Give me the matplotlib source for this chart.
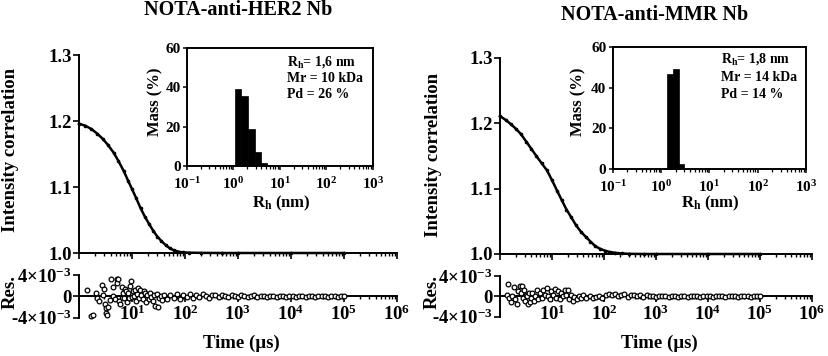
import numpy as np
import matplotlib
matplotlib.use("Agg")
import matplotlib.pyplot as plt
from matplotlib.ticker import LogLocator, FixedLocator, FuncFormatter, NullFormatter

plt.rcParams['font.family'] = ['Liberation Serif', 'DejaVu Serif']
plt.rcParams['font.weight'] = 'bold'
plt.rcParams['axes.labelweight'] = 'bold'
plt.rcParams['mathtext.fontset'] = 'custom'
plt.rcParams['mathtext.rm'] = 'Liberation Serif:bold'
plt.rcParams['mathtext.it'] = 'Liberation Serif:bold:italic'
plt.rcParams['mathtext.bf'] = 'Liberation Serif:bold'
plt.rcParams['mathtext.default'] = 'rm'

# ---------------- data ----------------
titles = ["NOTA-anti-HER2 Nb", "NOTA-anti-MMR Nb"]
info_left = ["R$_{\\rm h}$= 1,6 nm", "Mr = 10 kDa", "Pd = 26 %"]
info_right = ["R$_{\\rm h}$= 1,8 nm", "Mr = 14 kDa", "Pd = 14 %"]

# correlation curves (time in µs)
corr_t_left = [1.0, 1.3, 1.7, 2.2, 2.8, 3.5, 4.5, 5.5, 7.0, 8.5, 10, 12, 14.5, 17.5,
               21, 25, 30, 36, 43, 52, 62, 75, 90, 120, 200, 500, 1e3, 1e4, 1e5]
corr_g_left = [1.196, 1.193, 1.188, 1.181, 1.173, 1.164, 1.152, 1.140, 1.124, 1.109,
               1.097, 1.083, 1.068, 1.055, 1.044, 1.034, 1.025, 1.018, 1.012, 1.007,
               1.004, 1.002, 1.001, 1.0005, 1.0002, 1.0, 1.0, 1.0, 1.0]
corr_t_right = [1.0, 1.3, 1.6, 2.0, 2.5, 3.2, 4.0, 5.0, 6.3, 8, 10, 12.5, 15.5, 19,
                23.5, 29, 36, 45, 55, 68, 84, 105, 130, 165, 220, 300, 600, 1e3, 1e4, 1e5]
corr_g_right = [1.211, 1.205, 1.199, 1.192, 1.184, 1.172, 1.161, 1.150, 1.139, 1.128,
                1.113, 1.097, 1.082, 1.068, 1.056, 1.044, 1.034, 1.026, 1.019, 1.012,
                1.008, 1.005, 1.003, 1.0018, 1.0008, 1.0003, 1.0, 1.0, 1.0, 1.0]

# residuals (x1e-3)
res_t_left = [1.4, 1.66, 1.81, 2.1, 2.2, 2.4, 2.7, 2.8, 2.9, 3.1,
              3.2, 3.3, 3.4, 3.6, 3.85, 4.1, 4.3, 4.45, 4.8, 5.1,
              5.3, 5.5, 5.8, 5.9, 6.4, 6.7, 7.0, 7.3, 7.6, 7.9,
              8.3, 8.7, 9.0, 9.5, 9.8, 10.3, 10.8, 11.3, 11.8, 12.4,
              13.0, 13.6, 14.3, 15.0, 15.8, 16.6, 17.5, 18.5, 19.5, 20.6,
              21.8, 23, 24.5, 26, 27.5, 29, 31, 33, 35, 37.5,
              40, 46, 53, 61, 70, 81, 93, 107, 123, 141,
              162, 187, 215, 247, 284, 327, 376, 432, 497, 572,
              658, 756, 870, 1000, 1150, 1320, 1520, 1750, 2010, 2310,
              2660, 3060, 3520, 4050, 4650, 5350, 6150, 7080, 8140, 9360,
              10800, 12400, 14200, 16400, 18800, 21600, 24900, 28600, 32900, 37900,
              43500, 50100, 57600, 66200, 76100, 87600, 100000]
res_r_left = [1.2, -3.8, -3.6, 0.6, -0.3, -0.9, 2.2, 0.3, 1.35, -1.5,
              -2.2, -3.1, -3.6, -2.0, -0.7, 3.2, 0.1, 1.7, -0.6, 3.2,
              2.5, 3.2, -0.9, -1.5, 1.7, 0.6, -0.4, 1.3, 0.9, -1.1,
              0.6, -0.3, 1.9, 2.8, -0.2, 0.9, 0.0, 1.2, -0.8, 0.5,
              1.5, -0.4, 1.2, 0.3, -0.6, 1.0, 0.6, -1.0, 0.2, -0.5,
              0.7, -0.2, -0.8, 0.3, -1.8, 0.5, -2.1, -0.4, 0.1, -0.7,
              0.2, -0.5, 0.3, -0.3, 0.4, -0.6, 0.2, -0.2, 0.5, -0.3,
              0.3, -0.2, 0.4, 0.1, -0.3, 0.3, 0.2, -0.1, 0.3, 0.0,
              -0.2, 0.2, 0.1, -0.1, 0.2, 0.0, -0.2, 0.1, 0.2, -0.1,
              0.1, 0.0, -0.1, 0.1, 0.0, -0.1, 0.1, 0.0, -0.1, 0.1,
              0.0, -0.1, 0.1, 0.0, -0.1, 0.0, 0.1, -0.1, 0.0, 0.1,
              0.0, -0.1, 0.0, 0.1, -0.1, 0.0, 0.0]
res_t_right = [1.35, 1.45, 1.5, 1.6, 1.7, 1.88, 1.98, 2.15, 2.2, 2.4,
               2.5, 2.6, 2.75, 2.85, 3.0, 3.1, 3.3, 3.5, 3.6, 3.8,
               3.9, 4.2, 4.5, 4.8, 5.1, 5.5, 5.9, 6.3, 6.8, 7.3,
               7.9, 8.4, 9.0, 9.7, 10.4, 11.2, 12.0, 13.0, 14.0, 15.0,
               16.2, 17.5, 18.7, 20, 21.5, 23, 25, 27, 30, 33,
               36, 40, 46, 53, 61, 70, 81, 93, 107, 123,
               141, 162, 187, 215, 247, 284, 327, 376, 432, 497,
               572, 658, 756, 870, 1000, 1150, 1320, 1520, 1750, 2010,
               2310, 2660, 3060, 3520, 4050, 4650, 5350, 6150, 7080, 8140,
               9360, 10800, 12400, 14200, 16400, 18800, 21600, 24900, 28600, 32900,
               37900, 43500, 50100, 57600, 66200, 76100, 87600, 100000]
res_r_right = [0.3, 2.45, -0.3, -1.2, 0.0, 1.8, -0.6, -1.6, 1.0, 2.1,
               0.6, 2.1, -0.3, 1.3, -1.0, 0.3, 0.0, -1.6, 0.6, -1.2,
               -0.3, 0.6, -1.0, 0.1, 1.2, -0.5, 0.6, -0.3, 1.3, 0.3,
               1.6, 0.0, -0.6, 1.0, 0.2, 1.4, -0.3, 1.0, -0.5, 0.6,
               0.1, 1.3, 0.2, 1.3, -0.6, 0.3, -1.0, -0.2, -0.6, 0.1,
               -0.4, 0.2, -0.3, 0.1, -0.4, -0.2, 0.0, -0.3, 0.3, 0.4,
               0.2, 0.5, 0.1, 0.3, 0.4, -0.1, 0.3, 0.2, 0.0, 0.2,
               -0.1, 0.2, 0.0, 0.1, -0.2, 0.1, 0.0, 0.1, -0.1, 0.0,
               0.1, -0.1, 0.0, 0.1, -0.1, 0.0, 0.0, 0.1, -0.1, 0.0,
               0.1, 0.0, -0.1, 0.0, 0.1, 0.0, -0.1, 0.0, 0.1, 0.0,
               -0.1, 0.0, 0.1, 0.0, -0.1, 0.0, 0.1, 0.0]

# size distributions: bin edges (nm) and mass (%)
rh_edges_left = [0.83, 1.07, 1.48, 2.09, 2.95, 3.98, 5.25]
mass_left = [0.5, 39, 35.5, 19, 7, 1.3]
rh_edges_right = [1.36, 1.78, 2.34, 3.02]
mass_right = [46.5, 49, 2.8]

# ---------------- figure ----------------
W, H = 829, 356
fig = plt.figure(figsize=(W / 100, H / 100), dpi=100)


def rect(x0, x1, ytop, ybot):
    return [x0 / W, 1 - ybot / H, (x1 - x0) / W, (ybot - ytop) / H]


def ftext(x, y, s, **kw):
    fig.text(x / W, 1 - y / H, s, ha='center', va='center', **kw)


LW = 1.4
FS = 13.5
FS_IN = 11


def decade_fmt(v, p):
    e = int(round(np.log10(v)))
    if e <= 0:
        return ''
    return '10$^{%d}$' % e


def inset_fmt(v, p):
    e = int(round(np.log10(v)))
    return '10$^{%d}$' % e


panels = [
    dict(main=rect(79, 397, 55, 253), res=rect(79, 397, 275, 317.5),
         ins=rect(187, 373, 47.7, 166), ct=corr_t_left, cg=corr_g_left,
         rt=res_t_left, rr=res_r_left, edges=rh_edges_left, mass=mass_left,
         info=info_left, title=titles[0], title_xy=(238, 10),
         ylab_xy=(11, 150), res_xy=(10, 292), time_xy=(241, 343),
         rh_xy=(281, 203), mass_xy=(155, 102), info_x=0.536,
         info_y=[0.879, 0.741, 0.606]),
    dict(main=rect(500, 812, 58, 254), res=rect(500, 812, 276, 316.7),
         ins=rect(612.7, 806, 46.7, 169.3), ct=corr_t_right, cg=corr_g_right,
         rt=res_t_right, rr=res_r_right, edges=rh_edges_right, mass=mass_right,
         info=info_right, title=titles[1], title_xy=(655, 15),
         ylab_xy=(433, 155), res_xy=(432, 292), time_xy=(659, 343),
         rh_xy=(710, 203), mass_xy=(578, 102), info_x=0.559,
         info_y=[0.897, 0.747, 0.614]),
]

for P in panels:
    # main correlation axes
    ax = fig.add_axes(P['main'])
    ax.plot(P['ct'], P['cg'], color='black', lw=1.8, marker='o', ms=1.6,
            clip_on=False, zorder=3)
    ax.set_xscale('log')
    ax.set_xlim(1, 1e6)
    ax.set_ylim(1.0, 1.3)
    for s in ['top', 'right']:
        ax.spines[s].set_visible(False)
    for s in ['left', 'bottom']:
        ax.spines[s].set_linewidth(LW)
    ax.yaxis.set_major_locator(FixedLocator([1.0, 1.1, 1.2, 1.3]))
    ax.yaxis.set_major_formatter(FuncFormatter(lambda v, p: '%.1f' % v))
    ax.xaxis.set_major_locator(LogLocator(base=10, numticks=10))
    ax.xaxis.set_minor_locator(LogLocator(base=10, subs=np.arange(2, 10), numticks=20))
    ax.xaxis.set_major_formatter(NullFormatter())
    ax.xaxis.set_minor_formatter(NullFormatter())
    ax.tick_params(axis='both', which='major', direction='out', length=4, width=1.2,
                   labelsize=FS)
    ax.tick_params(axis='x', which='minor', direction='out', length=2.5, width=1.0)
    ax.tick_params(axis='y', pad=1)

    # residual axes
    ar = fig.add_axes(P['res'])
    ar.plot(P['rt'], np.array(P['rr']) * 1e-3, linestyle='none', marker='o', ms=3.4,
            mfc='white', mec='black', mew=0.9, clip_on=False, zorder=3)
    ar.set_xscale('log')
    ar.set_xlim(1, 1e6)
    ar.set_ylim(-4e-3, 4e-3)
    for s in ['top', 'right']:
        ar.spines[s].set_visible(False)
    ar.spines['bottom'].set_position(('data', 0))
    ar.spines['bottom'].set_linewidth(LW)
    ar.spines['left'].set_linewidth(LW)
    ar.yaxis.set_major_locator(FixedLocator([-4e-3, 0, 4e-3]))
    ar.yaxis.set_major_formatter(FuncFormatter(
        lambda v, p: '0' if abs(v) < 1e-9 else ('4×10$^{-3}$' if v > 0 else '-4×10$^{-3}$')))
    ar.xaxis.set_major_locator(LogLocator(base=10, numticks=10))
    ar.xaxis.set_minor_locator(LogLocator(base=10, subs=np.arange(2, 10), numticks=20))
    ar.xaxis.set_major_formatter(FuncFormatter(decade_fmt))
    ar.xaxis.set_minor_formatter(NullFormatter())
    ar.tick_params(axis='both', which='major', direction='out', length=4, width=1.2,
                   labelsize=FS)
    ar.tick_params(axis='x', which='minor', direction='out', length=2.5, width=1.0)
    ar.tick_params(axis='x', which='major', pad=2)
    ar.tick_params(axis='y', pad=1)

    # inset distribution
    ai = fig.add_axes(P['ins'])
    e = np.array(P['edges'])
    ai.bar(e[:-1], P['mass'], width=np.diff(e), align='edge', color='black',
           edgecolor='black', linewidth=0.5)
    ai.set_xscale('log')
    ai.set_xlim(0.1, 1000)
    ai.set_ylim(0, 60)
    for s in ai.spines.values():
        s.set_linewidth(LW)
    ai.yaxis.set_major_locator(FixedLocator([0, 20, 40, 60]))
    ai.xaxis.set_major_locator(LogLocator(base=10, numticks=10))
    ai.xaxis.set_minor_locator(LogLocator(base=10, subs=np.arange(2, 10), numticks=20))
    ai.xaxis.set_major_formatter(FuncFormatter(inset_fmt))
    ai.xaxis.set_minor_formatter(NullFormatter())
    ai.tick_params(axis='both', which='major', direction='out', length=3, width=1.1,
                   labelsize=FS_IN, pad=1.5)
    ai.tick_params(axis='x', which='major', pad=4)
    ai.tick_params(axis='x', which='minor', direction='out', length=2, width=0.9)
    for txt, yy in zip(P['info'], P['info_y']):
        ai.text(P['info_x'], yy, txt, transform=ai.transAxes, fontsize=10,
                ha='left', va='center', fontweight='bold')

    # labels
    ftext(*P['title_xy'], P['title'], fontsize=14.5, fontweight='bold')
    ftext(*P['ylab_xy'], 'Intensity correlation', fontsize=FS, rotation=90,
          fontweight='bold')
    ftext(*P['res_xy'], 'Res.', fontsize=FS, rotation=90, fontweight='bold')
    ftext(*P['time_xy'], 'Time (µs)', fontsize=FS, fontweight='bold')
    ftext(*P['rh_xy'], 'R$_{\\rm h}$ (nm)', fontsize=12, fontweight='bold')
    ftext(*P['mass_xy'], 'Mass (%)', fontsize=12, rotation=90, fontweight='bold')

fig.savefig('out.png', dpi=100)
